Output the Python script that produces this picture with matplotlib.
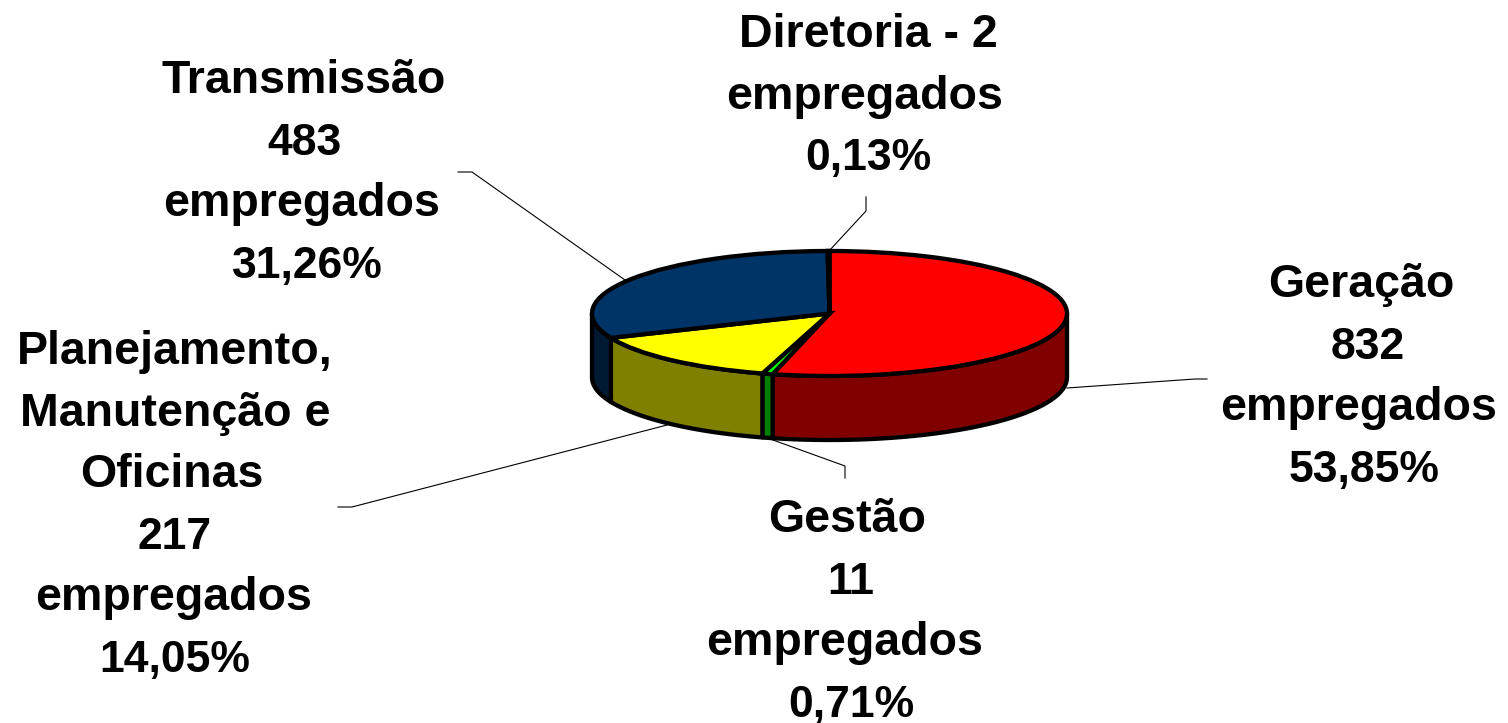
import numpy as np
import matplotlib
matplotlib.use('Agg')
import matplotlib.pyplot as plt
from matplotlib.patches import Polygon

W, H = 1508, 723

categories = ['Geração', 'Gestão', 'Planejamento, Manutenção e Oficinas', 'Transmissão', 'Diretoria']
employees = [832, 11, 217, 483, 2]
percents = [53.85, 0.71, 14.05, 31.26, 0.13]
top_colors = ['#ff0000', '#00ff00', '#ffff00', '#003366', '#000000']
side_colors = ['#800000', '#008000', '#808000', '#001933', '#000000']

label_lines = [
    ['Geração', '832', 'empregados', '53,85%'],
    ['Gestão', '11', 'empregados', '0,71%'],
    ['Planejamento,', 'Manutenção e', 'Oficinas', '217', 'empregados', '14,05%'],
    ['Transmissão', '483', 'empregados', '31,26%'],
    ['Diretoria - 2', 'empregados', '0,13%'],
]
# x centre of each text line, baseline y of the first line (pixels)
label_x = [[1361, 1368, 1359, 1364],
           [847, 851, 845, 851],
           [175, 175, 172, 175, 174, 175],
           [304, 305, 302, 307],
           [868, 865, 868]]
label_y = [297, 532, 364, 93, 47]
line_step = 61.6

leaders = [
    [(1207, 379), (1195, 379), (1067, 388)],
    [(845, 478), (845, 466), (773, 440)],
    [(338, 507), (352, 507), (667, 425)],
    [(458, 172), (472, 172), (625, 280)],
    [(866, 197), (866, 211), (829, 251)],
]

# pixel space for text and leader lines
fig = plt.figure(figsize=(W / 100, H / 100), dpi=100, facecolor='white')
bg = fig.add_axes([0, 0, 1, 1])
bg.set_xlim(0, W)
bg.set_ylim(H, 0)
bg.axis('off')

for pts in leaders:
    xs, ys = zip(*pts)
    bg.plot(xs, ys, color='black', linewidth=0.8)

for lines, xs, y0 in zip(label_lines, label_x, label_y):
    for i, (line, x) in enumerate(zip(lines, xs)):
        # the original text is letter-spaced, so word lines run a bit larger
        size = 32 if line[0].isdigit() else 33.5
        bg.text(x, y0 + i * line_step, line, ha='center', va='baseline',
                fontsize=size, fontweight='bold', family='Liberation Sans', color='black')

# pie body: ellipse 592-1067 wide, top face 251-376, side depth 64 px
depth = 64 / 62.5
left, right, top, bottom = 592, 1067, 251, 440
ax = fig.add_axes([left / W, 1 - bottom / H, (right - left) / W, (bottom - top) / H])
ax.patch.set_alpha(0)

edges = 90 - np.concatenate([[0], np.cumsum(percents)]) * 3.6 / (sum(percents) / 100)
line_w = 3.1

# side walls first, only the part of each slice that faces the viewer
for i, color in enumerate(side_colors):
    a0 = max(edges[i + 1], -180)
    a1 = min(edges[i], 0)
    if a1 <= a0:
        continue
    t = np.radians(np.linspace(a1, a0, 40))
    x, y = np.cos(t), np.sin(t)
    pts = np.column_stack([np.r_[x, x[::-1]], np.r_[y, y[::-1] - depth]])
    ax.add_patch(Polygon(pts, closed=True, facecolor=color, edgecolor='black',
                         linewidth=line_w, joinstyle='round', clip_on=False))

wedges, _ = ax.pie(percents, colors=top_colors, startangle=90, counterclock=False,
                   radius=1, wedgeprops={'edgecolor': 'black', 'linewidth': line_w})
for w in wedges:
    w.set_clip_on(False)
ax.set_aspect('auto')
ax.set_xlim(-1, 1)
ax.set_ylim(-1 - depth, 1)
ax.axis('off')

fig.savefig('out.png', dpi=100)
